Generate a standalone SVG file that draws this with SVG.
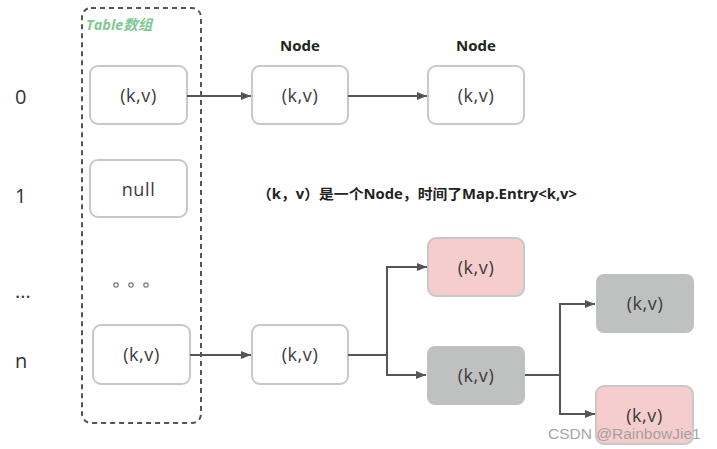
<svg xmlns="http://www.w3.org/2000/svg" width="717" height="449" viewBox="0 0 717 449">
<defs>
<marker id="ah" markerWidth="10" markerHeight="8" refX="10" refY="4" orient="auto" markerUnits="userSpaceOnUse">
<path d="M0,0 L10,4 L0,8 Z" fill="#555"/>
</marker>
<style>
.box{fill:#fff;stroke:#c8c8c8;stroke-width:2}
.pink{fill:#f5cdcd;stroke:#c8c8c8;stroke-width:2}
.gray{fill:#bfc1c0;stroke:none}
.kv{font-family:"Open Sans","Noto Sans","DejaVu Sans",sans-serif;font-size:18px;letter-spacing:0.6px;fill:#3a3a3a;text-anchor:middle}
.idx{font-family:"Open Sans","Noto Sans",sans-serif;font-size:20px;fill:#333}
.hdr{font-family:"Open Sans","Noto Sans",sans-serif;font-size:15px;font-weight:bold;fill:#222;text-anchor:middle}
.conn{fill:none;stroke:#555;stroke-width:2}
</style>
</defs>
<rect width="717" height="449" fill="#fff"/>

<g id="table">
<rect x="82" y="8" width="119" height="415" rx="9" fill="none" stroke="#555" stroke-width="2" stroke-dasharray="5,4"/>
<text x="86" y="30" font-family="'Open Sans','Noto Sans','Noto Sans CJK SC',sans-serif" font-size="14.5" font-weight="bold" font-style="italic" fill="#7ec98f">Table数组</text>
</g>

<g id="labels">
<text class="idx" x="15" y="104">0</text>
<text class="idx" x="15" y="203">1</text>
<text class="idx" x="15" y="298" font-size="17">...</text>
<text class="idx" x="15" y="368">n</text>
<text class="hdr" x="300" y="51">Node</text>
<text class="hdr" x="476" y="51">Node</text>
<text x="257" y="199" textLength="320" lengthAdjust="spacingAndGlyphs" font-family="'Open Sans','Noto Sans','Noto Sans CJK SC',sans-serif" font-size="14" font-weight="bold" fill="#222">（k，v）是一个Node，时间了Map.Entry&lt;k,v&gt;</text>
<g fill="none" stroke="#777" stroke-width="1.2">
<circle cx="116" cy="285" r="2.2"/>
<circle cx="131" cy="285" r="2.2"/>
<circle cx="146" cy="285" r="2.2"/>
</g>
</g>

<g id="t0"><rect class="box" x="90" y="66" width="97" height="58" rx="8"/><text class="kv" x="138.5" y="102">(k,v)</text></g>
<g id="t1"><rect class="box" x="90" y="160" width="97" height="57" rx="8"/><text class="kv" x="138.5" y="196">null</text></g>
<g id="tn"><rect class="box" x="93" y="325" width="97" height="59" rx="8"/><text class="kv" x="141.5" y="361">(k,v)</text></g>

<g id="n01"><rect class="box" x="252" y="66" width="96" height="58" rx="8"/><text class="kv" x="300" y="102">(k,v)</text></g>
<g id="n02"><rect class="box" x="428" y="66" width="96" height="58" rx="8"/><text class="kv" x="476" y="102">(k,v)</text></g>
<g id="nn1"><rect class="box" x="252" y="325" width="96" height="59" rx="8"/><text class="kv" x="300" y="361">(k,v)</text></g>
<g id="nn2"><rect class="pink" x="428" y="238" width="96" height="58" rx="8"/><text class="kv" x="476" y="274">(k,v)</text></g>
<g id="nn3"><rect class="gray" x="427" y="346" width="98" height="59" rx="8"/><text class="kv" x="476" y="382">(k,v)</text></g>
<g id="nn4"><rect class="gray" x="596" y="274" width="98" height="59" rx="8"/><text class="kv" x="645" y="310">(k,v)</text></g>
<g id="nn5"><rect class="pink" x="596" y="386" width="97" height="58" rx="8"/><text class="kv" x="644.5" y="422">(k,v)</text></g>

<g id="connectors">
<path class="conn" d="M187,96 H251" marker-end="url(#ah)"/>
<path class="conn" d="M348,96 H427" marker-end="url(#ah)"/>
<path class="conn" d="M190,355 H251" marker-end="url(#ah)"/>
<path class="conn" d="M348,355 H387 V267 H427" marker-end="url(#ah)"/>
<path class="conn" d="M387,355 V375 H426" marker-end="url(#ah)"/>
<path class="conn" d="M525,375 H560 V304 H595" marker-end="url(#ah)"/>
<path class="conn" d="M560,375 V414 H595" marker-end="url(#ah)"/>
</g>

<text x="548" y="439" font-family="'Liberation Sans',Arial,sans-serif" font-size="15.5" fill="#999" fill-opacity="0.9">CSDN @RainbowJie1</text>
</svg>
